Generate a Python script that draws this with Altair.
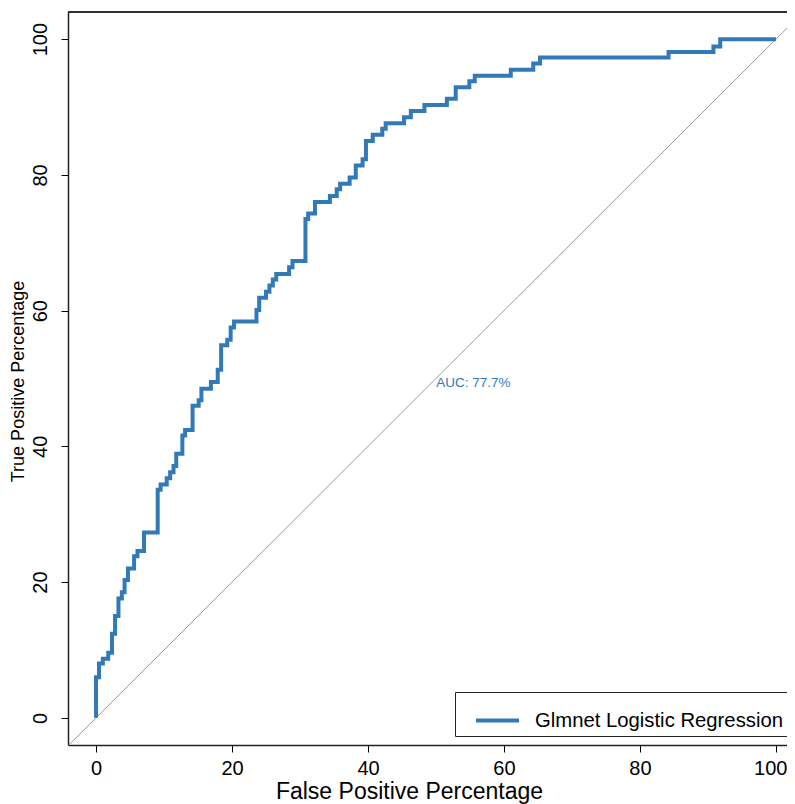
import altair as alt
import pandas as pd

# ROC curve vertices (upper-left corners of each step), in percent
roc_fpr = [0, 0, 0.44, 1.0, 1.8, 2.35, 2.8, 3.3, 3.8, 4.2, 4.7, 5.6, 6.1, 7.06,
           9.07, 9.5, 10.4, 10.9, 11.4, 11.8, 12.7, 13.1, 14.2, 15.1, 15.5, 16.9,
           17.9, 18.4, 19.3, 19.8, 20.3, 23.6, 24.0, 25.0, 25.5, 26.0, 26.5, 28.4,
           28.9, 30.8, 31.2, 32.2, 34.4, 35.4, 35.9, 37.3, 38.2, 39.2, 39.7, 40.7,
           42.1, 42.6, 45.3, 46.3, 48.3, 51.6, 52.9, 54.9, 55.7, 61.0, 64.3, 65.3,
           84.2, 90.8, 91.8, 100]
roc_tpr = [0, 6.0, 8.0, 8.7, 9.6, 12.4, 15.0, 17.6, 18.5, 20.3, 22.0, 23.8, 24.6, 27.3,
           33.6, 34.4, 35.3, 36.2, 37.1, 38.9, 41.6, 42.4, 46.0, 46.8, 48.5, 49.5,
           51.3, 54.9, 55.7, 57.5, 58.4, 60.1, 61.9, 62.8, 63.7, 64.6, 65.4, 66.4,
           67.3, 73.5, 74.3, 76.0, 76.9, 77.9, 78.7, 79.6, 81.4, 82.3, 85.0, 85.9,
           86.8, 87.6, 88.5, 89.4, 90.3, 91.2, 92.9, 93.8, 94.6, 95.5, 96.4, 97.3,
           98.1, 98.9, 100, 100]
model_name = "Glmnet Logistic Regression"

diag_x = [-4.2, 104]
diag_y = [-4.2, 104]

auc_label = ["AUC: 77.7%"]
auc_x = [55.5]
auc_y = [49.3]

x_ticks = [0, 20, 40, 60, 80, 100]
y_ticks = [0, 20, 40, 60, 80, 100]

BLUE = "#3279B8"
FRAME = "#222222"
FONT = "Liberation Sans, Arial, Helvetica, sans-serif"

W, H = 719, 733

roc_df = pd.DataFrame({"fpr": roc_fpr, "tpr": roc_tpr,
                       "model": [model_name] * len(roc_fpr),
                       "i": list(range(len(roc_fpr)))})
diag_df = pd.DataFrame({"x": diag_x, "y": diag_y, "i": [0, 1]})
auc_df = pd.DataFrame({"x": auc_x, "y": auc_y, "t": auc_label})

xscale = alt.Scale(domain=[-4.12, 101.62], nice=False, zero=False)
yscale = alt.Scale(domain=[-4.0, 104.0], nice=False, zero=False)

xaxis = alt.Axis(values=x_ticks, title="False Positive Percentage", grid=False,
                 domain=True, domainColor=FRAME, domainWidth=1.5,
                 tickSize=7, tickColor="black", tickWidth=1,
                 labelFontSize=20, labelFont=FONT, labelColor="black",
                 labelPadding=6, labelFlush=12, labelFlushOffset=11,
                 titleFontSize=23, titleFont=FONT,
                 titleFontWeight="normal", titleColor="black",
                 titleX=341, titleY=53, titleBaseline="alphabetic",
                 titleAlign="center")
yaxis = alt.Axis(values=y_ticks, title="True Positive Percentage", grid=False,
                 domain=True, domainColor=FRAME, domainWidth=1.5,
                 tickSize=7, tickColor="black", tickWidth=1,
                 labelFontSize=20, labelFont=FONT, labelColor="black",
                 labelAngle=270, labelAlign="center", labelBaseline="alphabetic",
                 labelPadding=15, titleFontSize=18, titleFont=FONT,
                 titleFontWeight="normal", titleColor="black",
                 titleAngle=270, titleX=-50, titleY=369, titleBaseline="middle",
                 titleAlign="center")

diag = alt.Chart(diag_df).mark_line(color="#999999", strokeWidth=1, clip=True).encode(
    x=alt.X("x:Q", scale=xscale, axis=xaxis),
    y=alt.Y("y:Q", scale=yscale, axis=yaxis),
    order="i:Q",
)

top_border = alt.Chart(diag_df).mark_rule(color=FRAME, strokeWidth=1.5).encode(
    x=alt.value(0), x2=alt.value(W), y=alt.value(0),
)

roc = alt.Chart(roc_df).mark_line(strokeWidth=4, interpolate="step-after", clip=True).encode(
    x=alt.X("fpr:Q", scale=xscale),
    y=alt.Y("tpr:Q", scale=yscale),
    order="i:Q",
    color=alt.Color("model:N", scale=alt.Scale(domain=[model_name], range=[BLUE]),
                    legend=alt.Legend(title=None, orient="none", legendX=387, legendY=680,
                                      padding=5, strokeColor=FRAME, fillColor="white",
                                      symbolType="stroke", symbolSize=1849,
                                      symbolStrokeWidth=4, symbolOffset=14,
                                      labelFontSize=20.3, labelFont=FONT,
                                      labelColor="black", labelOffset=14,
                                      labelLimit=0, cornerRadius=0)),
)

auc = alt.Chart(auc_df).mark_text(color=BLUE, fontSize=13.5, font=FONT).encode(
    x=alt.X("x:Q", scale=xscale),
    y=alt.Y("y:Q", scale=yscale),
    text="t:N",
)

chart = (diag + top_border + roc + auc).properties(
    width=W, height=H, autosize="none",
    padding={"left": 60, "top": 4, "right": 0, "bottom": 60},
).configure_view(stroke=None)

chart.save("out.html", embed_options={"renderer": "svg", "actions": False})
